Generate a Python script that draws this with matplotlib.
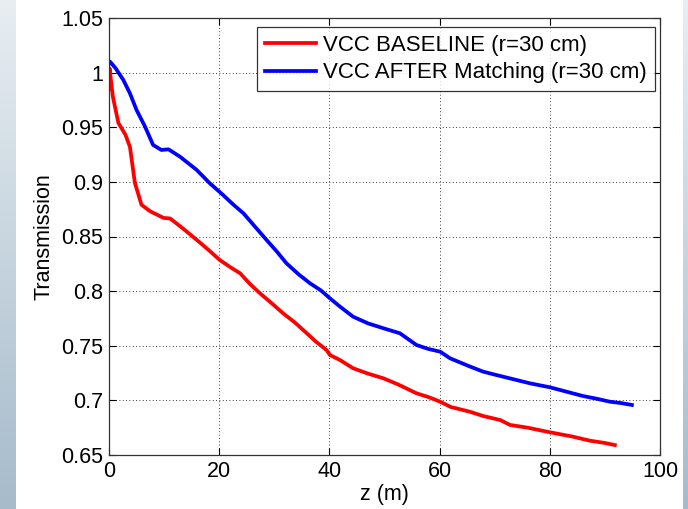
import numpy as np
import matplotlib
matplotlib.use("Agg")
import matplotlib.pyplot as plt
from matplotlib.patches import Rectangle

plt.rcParams['font.family'] = ['Liberation Sans', 'DejaVu Sans']

# Data
z_base = [0.0, 0.1, 0.7, 1.7, 3.0, 3.8, 4.7, 5.9, 7.5, 9.9, 11.1, 13.5, 15.9, 18.0, 20.1, 22.0,
          23.8, 25.5, 27.4, 29.5, 31.6, 33.8, 35.9, 37.5, 39.5, 40.1, 41.9, 44.3, 47.0,
          49.8, 52.5, 55.8, 58.0, 60.1, 62.0, 65.5, 67.9, 71.0, 72.8, 76.0, 80.0,
          84.0, 87.3, 90.0, 91.8]
t_base = [0.985, 1.004, 0.978, 0.954, 0.943, 0.932, 0.899, 0.879, 0.873, 0.867, 0.8665, 0.857,
          0.847, 0.838, 0.8285, 0.822, 0.8163, 0.807, 0.798, 0.789, 0.7797, 0.771, 0.7614,
          0.754, 0.746, 0.7415, 0.737, 0.7294, 0.7245, 0.7202, 0.7145, 0.7065, 0.703,
          0.6988, 0.694, 0.6896, 0.6857, 0.682, 0.6775, 0.675, 0.6708, 0.667, 0.6631,
          0.661, 0.6591]

z_match = [0.0, 0.2, 1.2, 2.6, 3.8, 5.0, 6.5, 8.0, 9.5, 10.8, 12.9, 15.9, 18.3, 20.7, 22.5,
           24.4, 26.5, 28.6, 30.5, 32.2, 34.5, 36.5, 38.5, 40.1, 42.0, 44.3, 47.0, 49.8,
           52.8, 55.8, 58.0, 60.1, 61.9, 65.5, 67.9, 70.3, 74.0, 76.4, 80.0, 83.0,
           86.0, 88.5, 90.9, 93.0, 94.9]
t_match = [1.008, 1.010, 1.004, 0.9933, 0.981, 0.9658, 0.951, 0.9338, 0.9292, 0.9298, 0.923,
           0.911, 0.8987, 0.888, 0.8795, 0.8712, 0.859, 0.8468, 0.836, 0.8255, 0.815,
           0.8071, 0.8005, 0.7934, 0.7855, 0.7766, 0.7705, 0.766, 0.7614, 0.7507, 0.747,
           0.7446, 0.7385, 0.731, 0.7263, 0.7232, 0.7186, 0.7156, 0.712, 0.708,
           0.704, 0.7015, 0.6988, 0.6975, 0.6958]

label_base = "VCC BASELINE (r=30 cm)"
label_match = "VCC AFTER Matching (r=30 cm)"
xticks = [0, 20, 40, 60, 80, 100]
yticks = [0.65, 0.7, 0.75, 0.8, 0.85, 0.9, 0.95, 1.0, 1.05]
ytick_labels = ["0.65", "0.7", "0.75", "0.8", "0.85", "0.9", "0.95", "1", "1.05"]

W, H = 688, 509
FS = 15.5
fig = plt.figure(figsize=(W / 100, H / 100), dpi=100)
fig.patch.set_facecolor('white')

# Background gradient strips
bg = fig.add_axes([0, 0, 1, 1], zorder=-10)
bg.set_axis_off()
grad = np.linspace(0, 1, 256)[:, None]
top = np.array([232, 238, 242]) / 255
bot = np.array([166, 187, 203]) / 255
img = top[None, None, :] * (1 - grad[:, :, None]) + bot[None, None, :] * grad[:, :, None]
img = np.repeat(img, 2, axis=1)
bg.imshow(img, extent=[0, W, 0, H], aspect='auto', origin='upper')
bg.add_patch(Rectangle((16, 0), 683 - 16, H, facecolor='white', edgecolor='none'))
bg.set_xlim(0, W)
bg.set_ylim(0, H)

ax = fig.add_axes([109 / W, 1 - 455 / H, (660 - 109) / W, (455 - 18) / H])
ax.plot(z_base, t_base, color='#ff0000', lw=2.7, label=label_base, solid_joinstyle='round')
ax.plot(z_match, t_match, color='#0000ff', lw=2.7, label=label_match, solid_joinstyle='round')

ax.set_xlim(0, 100)
ax.set_ylim(0.65, 1.05)
ax.set_xticks(xticks)
ax.set_yticks(yticks)
ax.set_yticklabels(ytick_labels)
ax.tick_params(direction='in', top=True, right=True, labelsize=FS, length=5, width=0.8,
               pad=4)
ax.grid(True, linestyle=(0, (1, 3)), color='black', linewidth=0.6)
for s in ax.spines.values():
    s.set_linewidth(0.9)
    s.set_color('#333333')

ax.set_xlabel('z (m)', fontsize=FS, labelpad=2)
ax.set_ylabel('Transmission', fontsize=FS, labelpad=5)

leg = ax.legend(loc='upper right', bbox_to_anchor=(655 / W, 1 - 27 / H),
                bbox_transform=fig.transFigure, fontsize=16, frameon=True, fancybox=False,
                edgecolor='black', handlelength=2.3, handletextpad=0.35,
                borderaxespad=0.0, labelspacing=0.3, borderpad=0.35)
leg.get_frame().set_linewidth(0.9)

fig.savefig('out.png', dpi=100)
